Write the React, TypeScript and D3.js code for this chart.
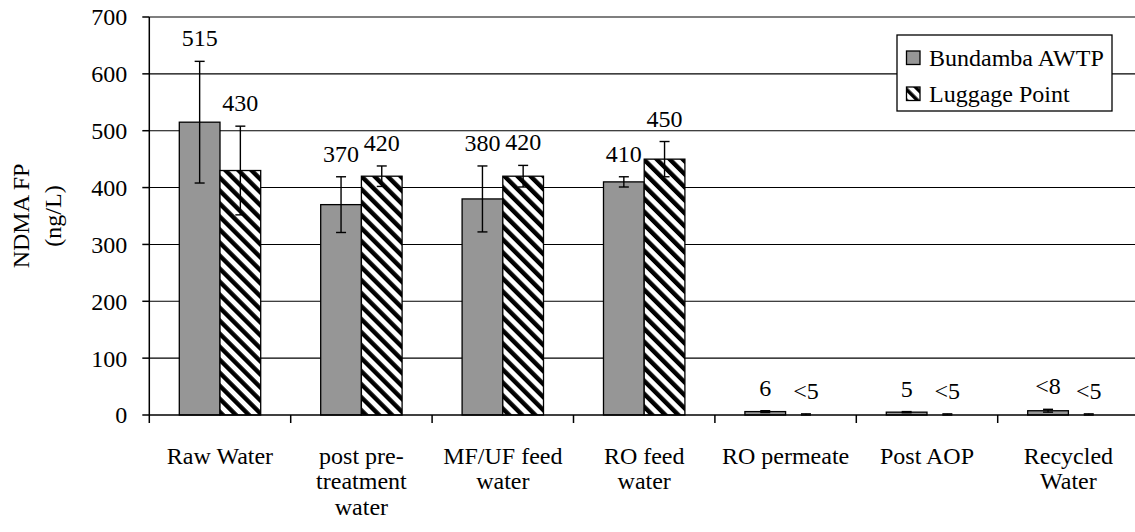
import React from "react";
import * as d3 from "d3";

// Sampling points along the treatment train
const categories = [
  "Raw Water",
  "post pre-treatment water",
  "MF/UF feed water",
  "RO feed water",
  "RO permeate",
  "Post AOP",
  "Recycled Water",
];
const categoryLines = [
  ["Raw Water"],
  ["post pre-", "treatment", "water"],
  ["MF/UF feed", "water"],
  ["RO feed", "water"],
  ["RO permeate"],
  ["Post AOP"],
  ["Recycled", "Water"],
];

const seriesNames = ["Bundamba AWTP", "Luggage Point"];

// NDMA formation potential (ng/L), with standard deviations
const bundambaValues = [515, 370, 380, 410, 6, 5, 7.5];
const bundambaErrors = [107, 49, 58, 9, 1.6, 1, 2.5];
const bundambaLabels = ["515", "370", "380", "410", "6", "5", "<8"];

const luggageValues = [430, 420, 420, 450, 0, 0, 0];
const luggageErrors = [78, 18, 19, 31, 2, 2, 2];
const luggageLabels = ["430", "420", "420", "450", "<5", "<5", "<5"];

const yTicks = [0, 100, 200, 300, 400, 500, 600, 700];

const W = 1135;
const H = 532;
const plotLeft = 149.3;
const plotTop = 17;
const plotBottom = 415;
const step = 141.4;
const plotRight = plotLeft + step * categories.length;

const FONT = '"Liberation Serif", "Times New Roman", Times, serif';
const FS = 24;
const GRAY = "#969696";

const textStyle: React.CSSProperties = { fontFamily: FONT, fontSize: FS };

export default function App() {
  const x0 = d3
    .scaleBand<string>()
    .domain(categories)
    .range([plotLeft, plotRight])
    .padding(0);
  const x1 = d3
    .scaleBand<string>()
    .domain(seriesNames)
    .range([0, x0.bandwidth()])
    .paddingInner(0)
    .paddingOuter(0.737);
  const y = d3.scaleLinear().domain([0, 700]).range([plotBottom, plotTop]);

  const series = [
    { name: seriesNames[0], values: bundambaValues, errors: bundambaErrors, labels: bundambaLabels, fill: GRAY },
    { name: seriesNames[1], values: luggageValues, errors: luggageErrors, labels: luggageLabels, fill: "url(#hatch)" },
  ];

  const bw = x1.bandwidth();
  const capHalf = 5;

  // legend geometry
  const lgX = 897;
  const lgY = 35;
  const lgW = 215;
  const lgH = 76;

  return (
    <svg
      width={W}
      height={H}
      style={{ position: "absolute", left: 0, top: 0, background: "#fff", ...textStyle }}
    >
      <defs>
        <pattern
          id="hatch"
          patternUnits="userSpaceOnUse"
          width={9.2}
          height={9.2}
          patternTransform="rotate(-45)"
        >
          <rect width={9.2} height={9.2} fill="#fff" />
          <rect width={4.4} height={9.2} fill="#000" />
        </pattern>
        <pattern
          id="hatchSmall"
          patternUnits="userSpaceOnUse"
          width={8}
          height={8}
          patternTransform="rotate(-45)"
        >
          <rect width={8} height={8} fill="#fff" />
          <rect width={3.6} height={8} fill="#000" />
        </pattern>
      </defs>
      <rect width={W} height={H} fill="#fff" />

      {/* gridlines */}
      {yTicks
        .filter((t) => t > 0)
        .map((t) => (
          <line key={t} x1={plotLeft} x2={plotRight} y1={y(t)} y2={y(t)} stroke="#000" strokeWidth={1.1} />
        ))}

      {/* bars */}
      {series.map((s) =>
        categories.map((c, i) => {
          const bx = (x0(c) as number) + (x1(s.name) as number);
          const v = s.values[i];
          if (v <= 0) return null;
          return (
            <rect
              key={s.name + c}
              x={bx}
              y={y(v)}
              width={bw}
              height={y(0) - y(v)}
              fill={s.fill}
              stroke="#000"
              strokeWidth={1.3}
            />
          );
        })
      )}

      {/* error bars */}
      {series.map((s) =>
        categories.map((c, i) => {
          const cx = (x0(c) as number) + (x1(s.name) as number) + bw / 2;
          const v = s.values[i];
          const e = s.errors[i];
          const yHi = y(v + e);
          const yLo = y(Math.max(0, v - e));
          return (
            <g key={"err" + s.name + c} stroke="#000" strokeWidth={1.4}>
              <line x1={cx} x2={cx} y1={yHi} y2={yLo} />
              <line x1={cx - capHalf} x2={cx + capHalf} y1={yHi} y2={yHi} />
              <line x1={cx - capHalf} x2={cx + capHalf} y1={yLo} y2={yLo} />
            </g>
          );
        })
      )}

      {/* value labels */}
      {series.map((s) =>
        categories.map((c, i) => {
          const cx = (x0(c) as number) + (x1(s.name) as number) + bw / 2;
          const top = y(s.values[i] + s.errors[i]);
          return (
            <text key={"lab" + s.name + c} x={cx} y={top - 15} textAnchor="middle" fill="#000" style={textStyle}>
              {s.labels[i]}
            </text>
          );
        })
      )}

      {/* y axis */}
      <line x1={plotLeft} x2={plotLeft} y1={plotTop} y2={plotBottom + 8} stroke="#000" strokeWidth={1.5} />
      {yTicks.map((t) => (
        <g key={"yt" + t}>
          <line x1={plotLeft - 7} x2={plotLeft} y1={y(t)} y2={y(t)} stroke="#000" strokeWidth={1.5} />
          <text x={plotLeft - 22} y={y(t)} dy="0.35em" textAnchor="end" fill="#000" style={textStyle}>
            {t}
          </text>
        </g>
      ))}

      {/* x axis */}
      <line x1={plotLeft} x2={plotRight} y1={plotBottom} y2={plotBottom} stroke="#000" strokeWidth={1.5} />
      {categories.map((c) => (
        <line
          key={"xt" + c}
          x1={(x0(c) as number) + step}
          x2={(x0(c) as number) + step}
          y1={plotBottom}
          y2={plotBottom + 8}
          stroke="#000"
          strokeWidth={1.5}
        />
      ))}
      {categories.map((c, i) => (
        <text key={"xl" + c} textAnchor="middle" fill="#000" style={textStyle}>
          {categoryLines[i].map((ln, j) => (
            <tspan key={j} x={(x0(c) as number) + step / 2} y={463.5 + j * 25.5}>
              {ln}
            </tspan>
          ))}
        </text>
      ))}

      {/* y axis title */}
      <text
        transform={`translate(28.5, ${(plotTop + plotBottom) / 2}) rotate(-90)`}
        textAnchor="middle"
        fill="#000"
        style={textStyle}
      >
        NDMA FP
      </text>
      <text
        transform={`translate(61, ${(plotTop + plotBottom) / 2}) rotate(-90)`}
        textAnchor="middle"
        fill="#000"
        style={textStyle}
      >
        (ng/L)
      </text>

      {/* legend */}
      <rect x={lgX} y={lgY} width={lgW} height={lgH} fill="#fff" stroke="#000" strokeWidth={1.3} />
      {series.map((s, i) => (
        <g key={"lg" + s.name}>
          <rect
            x={lgX + 9.5}
            y={lgY + 16 + i * 36}
            width={13.5}
            height={13.5}
            fill={i === 0 ? GRAY : "url(#hatchSmall)"}
            stroke="#000"
            strokeWidth={1.3}
          />
          <text x={lgX + 32} y={lgY + 31 + i * 36} fill="#000" style={textStyle}>
            {s.name}
          </text>
        </g>
      ))}
    </svg>
  );
}
